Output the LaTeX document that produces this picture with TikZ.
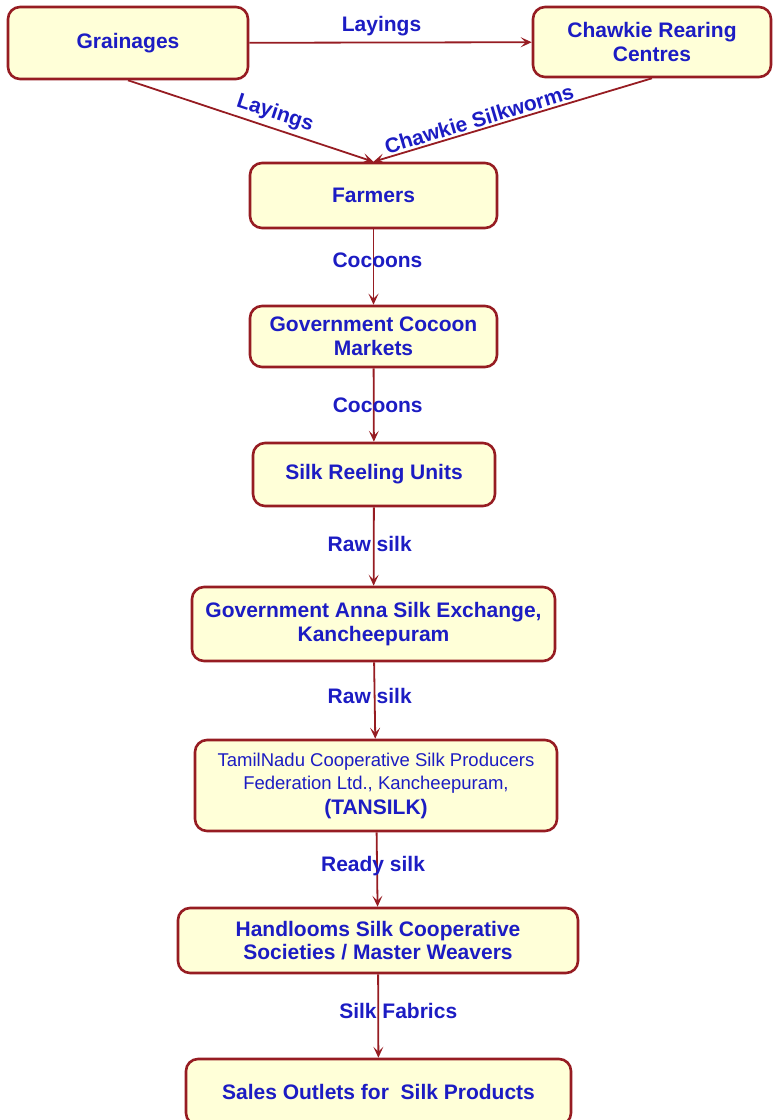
\documentclass[tikz,border=0pt]{standalone}
\usepackage{fontspec}
\setmainfont{Liberation Sans}
\usetikzlibrary{arrows.meta}
\definecolor{boxred}{RGB}{150,28,34}
\definecolor{boxfill}{RGB}{255,255,216}
\definecolor{txtblue}{RGB}{28,28,195}
\begin{document}
\begin{tikzpicture}[x=1pt,y=-1pt,
  box/.style={draw=boxred, line width=2.6pt, fill=boxfill, rounded corners=12pt,
    text=txtblue, font=\bfseries\fontsize{21}{23.5}\selectfont, align=center, inner sep=0pt},
  arr/.style={draw=boxred, line width=1.8pt, -{Stealth[length=11pt,width=10pt,inset=5pt]}},
  lab/.style={text=txtblue, font=\bfseries\fontsize{21}{23.5}\selectfont, inner sep=0pt}]
\useasboundingbox (0,0) rectangle (772,1120);

\node[box, minimum width=240pt, minimum height=72pt] (gr) at (128,43) {Grainages};
\node[box, minimum width=238pt, minimum height=70pt] (cr) at (652,42) {Chawkie Rearing\\Centres};
\node[box, minimum width=247pt, minimum height=65pt] (fa) at (373.5,195.5) {Farmers};
\node[box, minimum width=247pt, minimum height=61pt] (gcm) at (373.5,336.5) {Government Cocoon\\Markets};
\node[box, minimum width=242pt, minimum height=63pt] (sru) at (374,474.5) {Silk Reeling Units};
\node[box, minimum width=363pt, minimum height=74pt] (gase) at (373.5,624) {Government Anna Silk Exchange,\\Kancheepuram};
\node[box, minimum width=362pt, minimum height=91pt] (tan) at (376,785.5)
  {\renewcommand{\arraystretch}{1}\begin{tabular}{@{}c@{}}
   \mdseries\fontsize{18.5}{23}\selectfont TamilNadu Cooperative Silk Producers\\
   \mdseries\fontsize{18.5}{23}\selectfont Federation Ltd., Kancheepuram,\\[1pt]
   \bfseries\fontsize{21}{25}\selectfont (TANSILK)
   \end{tabular}};
\node[box, minimum width=400pt, minimum height=65pt] (hs) at (378,940.5) {Handlooms Silk Cooperative\\Societies / Master Weavers};
\node[box, minimum width=385pt, minimum height=66pt] (so) at (378.5,1092) {Sales Outlets for\ \ Silk Products};

\draw[arr] (gr) -- node[lab, xshift=-9pt, yshift=16pt] {Layings} (cr);
\draw[arr] (gr.south) -- node[lab, pos=0.58, sloped, above=4pt] {Layings} (fa.north);
\draw[arr] (cr.south) -- node[lab, pos=0.61, sloped, above=2pt] {Chawkie Silkworms} (fa.north);
\draw[arr] (fa) -- node[lab, xshift=4pt, yshift=7pt] {Cocoons} (gcm);
\draw[arr] (gcm) -- node[lab, xshift=4pt, yshift=0pt] {Cocoons} (sru);
\draw[arr] (sru) -- node[lab, xshift=-4pt, yshift=3pt] {Raw silk} (gase);
\draw[arr] (gase) -- node[lab, xshift=-5pt, yshift=5pt] {Raw silk} (tan);
\draw[arr] (tan) -- node[lab, xshift=-4pt, yshift=3pt] {Ready silk} (hs);
\draw[arr] (hs) -- node[lab, xshift=20pt, yshift=5pt] {Silk Fabrics} (so);
\end{tikzpicture}
\end{document}
